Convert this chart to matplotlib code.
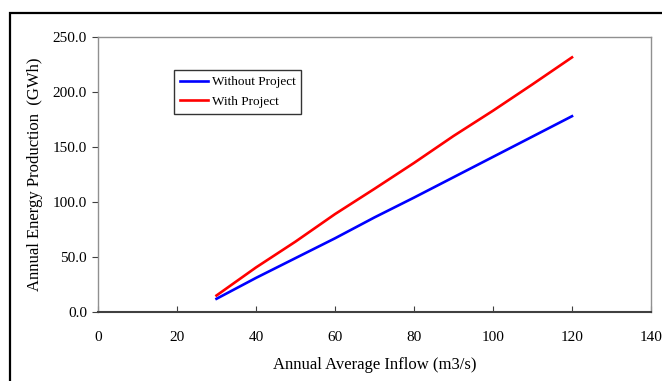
import matplotlib
matplotlib.use("Agg")
import matplotlib.pyplot as plt
from matplotlib.patches import Rectangle

# Annual average inflow (m3/s) and annual energy production (GWh)
inflow = [30, 40, 50, 60, 70, 80, 90, 100, 110, 120]
without_project = [12.0, 31.0, 49.0, 67.0, 86.0, 104.0, 122.5, 141.0, 159.5, 178.0]
with_project = [15.0, 40.5, 64.0, 89.0, 112.0, 135.5, 160.0, 183.0, 207.0, 231.5]

x_ticks = [0, 20, 40, 60, 80, 100, 120, 140]
y_ticks = [0, 50, 100, 150, 200, 250]

plt.rcParams["font.family"] = ["Liberation Serif", "DejaVu Serif"]

fig = plt.figure(figsize=(6.62, 3.81), dpi=100)
# outer chart frame
fig.patches.append(Rectangle((9.5 / 662, -0.05), 1.2, 1 - 13 / 381 + 0.05,
                             transform=fig.transFigure, fill=False,
                             edgecolor="black", linewidth=1.6, zorder=0))

ax = fig.add_axes([98 / 662, 1 - 312 / 381, (651 - 98) / 662, (312 - 37) / 381])
ax.plot(inflow, without_project, color="#0000ff", linewidth=1.9, label="Without Project")
ax.plot(inflow, with_project, color="#ff0000", linewidth=1.9, label="With Project")

ax.set_xlim(0, 140)
ax.set_ylim(0, 250)
ax.set_xticks(x_ticks)
ax.set_yticks(y_ticks)
ax.set_yticklabels([f"{v:.1f}" for v in y_ticks])
ax.tick_params(axis="x", direction="in", length=4, labelsize=11, pad=14, color="#404040")
ax.tick_params(axis="y", direction="out", length=4, labelsize=11, pad=4, color="#404040")

for side in ["top", "right", "left"]:
    ax.spines[side].set_color("#909090")
    ax.spines[side].set_linewidth(1.0)
ax.spines["bottom"].set_color("#404040")
ax.spines["bottom"].set_linewidth(1.5)

ax.set_xlabel("Annual Average Inflow (m3/s)", fontsize=12, labelpad=9)
ax.set_ylabel("Annual Energy Production  (GWh)", fontsize=12, labelpad=7)

leg = ax.legend(loc="upper left", bbox_to_anchor=((174 - 98) / 553, (312 - 70) / 275),
                fontsize=9.5, frameon=True, fancybox=False, handlelength=2.1,
                handletextpad=0.3, borderpad=0.45, labelspacing=0.55,
                borderaxespad=0)
leg.get_frame().set_edgecolor("black")
leg.get_frame().set_linewidth(1.0)

fig.savefig("out.png", dpi=100)
